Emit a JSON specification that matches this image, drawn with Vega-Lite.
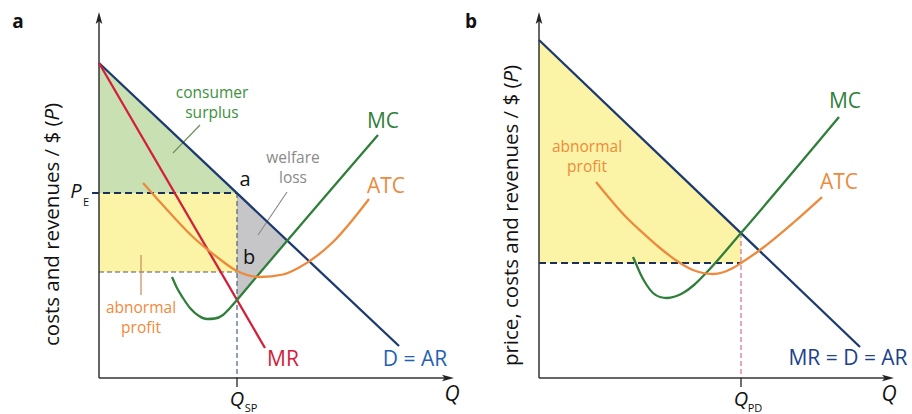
{
  "$schema": "https://vega.github.io/schema/vega-lite/v6.json",
  "background": "white",
  "padding": 0,
  "spacing": 0,
  "config": {"view": {"stroke": null}, "text": {"font": "Open Sans"}},
  "datasets": {
    "a_curves": [
      {"curve": "D", "q": 0, "p": 31.5}, {"curve": "D", "q": 30.0, "p": 3.2},
      {"curve": "MR", "q": 0, "p": 31.5}, {"curve": "MR", "q": 16.6, "p": 3.0},
      {"curve": "MC", "q": 7.3, "p": 10.1}, {"curve": "MC", "q": 7.8, "p": 9.0}, {"curve": "MC", "q": 8.4, "p": 8.0},
      {"curve": "MC", "q": 9.1, "p": 7.0}, {"curve": "MC", "q": 10.0, "p": 6.2}, {"curve": "MC", "q": 10.8, "p": 5.9},
      {"curve": "MC", "q": 11.6, "p": 5.95}, {"curve": "MC", "q": 12.4, "p": 6.3}, {"curve": "MC", "q": 13.1, "p": 7.0},
      {"curve": "MC", "q": 13.8, "p": 7.8}, {"curve": "MC", "q": 15.4, "p": 9.7}, {"curve": "MC", "q": 27.9, "p": 24.3},
      {"curve": "ATC", "q": 4.4, "p": 19.5}, {"curve": "ATC", "q": 7.1, "p": 16.5}, {"curve": "ATC", "q": 9.4, "p": 14.1},
      {"curve": "ATC", "q": 11.8, "p": 12.1}, {"curve": "ATC", "q": 13.8, "p": 10.7}, {"curve": "ATC", "q": 16.1, "p": 10.1},
      {"curve": "ATC", "q": 18.4, "p": 10.35}, {"curve": "ATC", "q": 20.1, "p": 11.1}, {"curve": "ATC", "q": 23.4, "p": 13.6},
      {"curve": "ATC", "q": 27.0, "p": 17.9}
    ],
    "a_text": [
      {"role": "big", "series": "MC", "text": "MC", "q": 28.4, "p": 25.6},
      {"role": "big", "series": "ATC", "text": "ATC", "q": 28.7, "p": 19.1},
      {"role": "big", "series": "MR", "text": "MR", "q": 18.4, "p": 1.8},
      {"role": "big", "series": "Dlab", "text": "D = AR", "q": 31.6, "p": 1.8},
      {"role": "note", "series": "CS", "text": "consumer", "q": 11.3, "p": 28.5},
      {"role": "note", "series": "CS", "text": "surplus", "q": 11.3, "p": 26.5},
      {"role": "note", "series": "WL", "text": "welfare", "q": 19.4, "p": 22.05},
      {"role": "note", "series": "WL", "text": "loss", "q": 19.4, "p": 20.05},
      {"role": "note", "series": "AP", "text": "abnormal", "q": 4.2, "p": 7.05},
      {"role": "note", "series": "AP", "text": "profit", "q": 4.2, "p": 5.05},
      {"role": "letter", "series": "ink", "text": "a", "q": 14.6, "p": 19.8},
      {"role": "letter", "series": "ink", "text": "b", "q": 15.0, "p": 12.0},
      {"role": "tag", "series": "ink", "text": "a", "q": -8.1, "p": 35.6},
      {"role": "ital", "series": "ink", "text": "P", "q": -2.3, "p": 18.6},
      {"role": "ital", "series": "ink", "text": "Q", "q": 13.8, "p": -2.2},
      {"role": "axisq", "series": "ink", "text": "Q", "q": 35.3, "p": -1.7},
      {"role": "sub", "series": "ink", "text": "E", "q": -1.3, "p": 17.5},
      {"role": "sub", "series": "ink", "text": "SP", "q": 15.2, "p": -3.05},
      {"role": "ytitle", "series": "ink", "text": "costs and revenues / $ (", "q": -4.6, "p": 25.75},
      {"role": "ytitleP", "series": "ink", "text": "P", "q": -4.6, "p": 25.75},
      {"role": "ytitleEnd", "series": "ink", "text": ")", "q": -4.6, "p": 26.9}
    ],
    "b_curves": [
      {"curve": "D", "q": 0, "p": 33.8}, {"curve": "D", "q": 32.1, "p": 3.1},
      {"curve": "MC", "q": 9.4, "p": 12.1}, {"curve": "MC", "q": 9.8, "p": 11.2}, {"curve": "MC", "q": 10.1, "p": 10.5},
      {"curve": "MC", "q": 10.7, "p": 9.4}, {"curve": "MC", "q": 11.4, "p": 8.5}, {"curve": "MC", "q": 12.1, "p": 8.1},
      {"curve": "MC", "q": 12.8, "p": 8.0}, {"curve": "MC", "q": 13.6, "p": 8.15}, {"curve": "MC", "q": 14.4, "p": 8.5},
      {"curve": "MC", "q": 15.5, "p": 9.3}, {"curve": "MC", "q": 16.8, "p": 10.6}, {"curve": "MC", "q": 20.2, "p": 14.5},
      {"curve": "MC", "q": 30.0, "p": 26.1},
      {"curve": "ATC", "q": 5.7, "p": 19.6}, {"curve": "ATC", "q": 8.8, "p": 16.0},
      {"curve": "ATC", "q": 10.4, "p": 14.5}, {"curve": "ATC", "q": 12.1, "p": 13.0}, {"curve": "ATC", "q": 13.8, "p": 11.7},
      {"curve": "ATC", "q": 15.4, "p": 10.8}, {"curve": "ATC", "q": 17.4, "p": 10.4}, {"curve": "ATC", "q": 19.4, "p": 11.0},
      {"curve": "ATC", "q": 20.2, "p": 11.5}, {"curve": "ATC", "q": 22.1, "p": 12.8}, {"curve": "ATC", "q": 25.4, "p": 15.5},
      {"curve": "ATC", "q": 28.3, "p": 18.1}
    ],
    "b_text": [
      {"role": "big", "series": "MC", "text": "MC", "q": 30.6, "p": 27.6},
      {"role": "big", "series": "ATC", "text": "ATC", "q": 30.0, "p": 19.5},
      {"role": "big", "series": "Dlab2", "text": "MR = D = AR", "q": 30.9, "p": 1.9},
      {"role": "note", "series": "AP", "text": "abnormal", "q": 4.8, "p": 23.15},
      {"role": "note", "series": "AP", "text": "profit", "q": 4.8, "p": 21.15},
      {"role": "tag", "series": "ink", "text": "b", "q": -6.8, "p": 35.6},
      {"role": "ital", "series": "ink", "text": "Q", "q": 20.2, "p": -2.2},
      {"role": "axisq", "series": "ink", "text": "Q", "q": 35.0, "p": -1.7},
      {"role": "sub", "series": "ink", "text": "PD", "q": 21.6, "p": -3.05},
      {"role": "ytitle", "series": "ink", "text": "price, costs and revenues / $ (", "q": -2.7, "p": 29.55},
      {"role": "ytitleP", "series": "ink", "text": "P", "q": -2.7, "p": 29.55},
      {"role": "ytitleEnd", "series": "ink", "text": ")", "q": -2.7, "p": 30.7}
    ]
  },
  "hconcat": [
    {
      "width": 460,
      "height": 414,
      "encoding": {
        "x": {"field": "q", "type": "quantitative", "scale": {"domain": [-9.9, 36.1], "nice": false, "zero": false}, "axis": null},
        "y": {"field": "p", "type": "quantitative", "scale": {"domain": [-3.6, 37.8], "nice": false, "zero": false}, "axis": null}
      },
      "layer": [
        {"data": {"values": [{"q": 0, "p": 31.5, "p2": 18.5}, {"q": 13.8, "p": 18.5, "p2": 18.5}]},
         "mark": {"type": "area", "color": "#c9e0b3", "opacity": 1},
         "encoding": {"y2": {"field": "p2"}}},
        {"data": {"values": [{"q": 0, "q2": 13.8, "p": 10.6, "p2": 18.5}]},
         "mark": {"type": "rect", "color": "#fbf4a6"},
         "encoding": {"x2": {"field": "q2"}, "y2": {"field": "p2"}}},
        {"data": {"values": [{"q": 13.8, "p": 18.5, "p2": 7.8}, {"q": 18.86, "p": 13.73, "p2": 13.73}]},
         "mark": {"type": "area", "color": "#c6c6c8", "opacity": 1},
         "encoding": {"y2": {"field": "p2"}}},
        {"data": {"values": [{"q": 0, "p": 10.6, "q2": 13.8}]},
         "mark": {"type": "rule", "color": "#555a66", "strokeWidth": 1.2, "strokeDash": [5, 3]},
         "encoding": {"x2": {"field": "q2"}}},
        {"data": {"values": [{"q": 13.8, "p": 18.5, "p2": 0}]},
         "mark": {"type": "rule", "color": "#4d5f80", "strokeWidth": 1.2, "strokeDash": [5, 3]},
         "encoding": {"y2": {"field": "p2"}}},
        {"data": {"values": [{"q": 13.8, "p": 0, "p2": -0.9}]},
         "mark": {"type": "rule", "color": "#222", "strokeWidth": 1.3},
         "encoding": {"y2": {"field": "p2"}}},
        {"data": {"values": [{"q": -0.7, "p": 18.5, "q2": 13.8}]},
         "mark": {"type": "rule", "color": "#1b2f5c", "strokeWidth": 2.2, "strokeDash": [7, 4]},
         "encoding": {"x2": {"field": "q2"}}},
        {"data": {"values": [{"q": 10.1, "p": 25.3, "q2": 7.4, "p2": 22.5}]},
         "mark": {"type": "rule", "color": "#6f8f5f", "strokeWidth": 1.2},
         "encoding": {"x2": {"field": "q2"}, "y2": {"field": "p2"}}},
        {"data": {"values": [{"q": 18.8, "p": 18.6, "q2": 15.9, "p2": 14.3}]},
         "mark": {"type": "rule", "color": "#8c8c8c", "strokeWidth": 1.2},
         "encoding": {"x2": {"field": "q2"}, "y2": {"field": "p2"}}},
        {"data": {"values": [{"q": 4.2, "p": 12.3, "p2": 8.3}]},
         "mark": {"type": "rule", "color": "#c98a55", "strokeWidth": 1.2},
         "encoding": {"y2": {"field": "p2"}}},
        {"data": {"values": [{"q": 0, "p": 0, "q2": 0, "p2": 36.0}, {"q": 0, "p": 0, "q2": 35.0, "p2": 0}]},
         "mark": {"type": "rule", "color": "#333", "strokeWidth": 1.5},
         "encoding": {"x2": {"field": "q2"}, "y2": {"field": "p2"}}},
        {"data": {"values": [{"q": 0, "p": 36.0}]},
         "mark": {"type": "point", "shape": "M0,-1L0.55,1L0,0.55L-0.55,1Z", "filled": true, "size": 144, "color": "#222", "opacity": 1}},
        {"data": {"values": [{"q": 34.9, "p": 0}]},
         "mark": {"type": "point", "shape": "M1,0L-1,0.55L-0.55,0L-1,-0.55Z", "filled": true, "size": 144, "color": "#222", "opacity": 1}},
        {"data": {"name": "a_curves"},
         "mark": {"type": "line", "strokeWidth": 2.3, "interpolate": "monotone"},
         "encoding": {
           "detail": {"field": "curve"},
           "color": {"field": "curve", "type": "nominal", "legend": null,
             "scale": {"domain": ["D", "MR", "MC", "ATC", "CS", "WL", "AP", "Dlab", "Dlab2", "ink"],
                       "range": ["#1c3a70", "#d2203c", "#2f7f3b", "#ec8a3e", "#3d9140", "#8a8a8a", "#ef8a3c", "#1f62b3", "#203f8c", "#111111"]}}
         }},
        {"data": {"name": "a_text"}, "transform": [{"filter": "datum.role === 'big'"}],
         "mark": {"type": "text", "fontSize": 21},
         "encoding": {"text": {"field": "text"},
           "color": {"field": "series", "type": "nominal", "legend": null,
             "scale": {"domain": ["D", "MR", "MC", "ATC", "CS", "WL", "AP", "Dlab", "Dlab2", "ink"],
                       "range": ["#1c3a70", "#d2203c", "#2f7f3b", "#ec8a3e", "#3d9140", "#8a8a8a", "#ef8a3c", "#1f62b3", "#203f8c", "#111111"]}}}},
        {"data": {"name": "a_text"}, "transform": [{"filter": "datum.role === 'note'"}],
         "mark": {"type": "text", "fontSize": 15.5},
         "encoding": {"text": {"field": "text"},
           "color": {"field": "series", "type": "nominal", "legend": null,
             "scale": {"domain": ["D", "MR", "MC", "ATC", "CS", "WL", "AP", "Dlab", "Dlab2", "ink"],
                       "range": ["#1c3a70", "#d2203c", "#2f7f3b", "#ec8a3e", "#3d9140", "#8a8a8a", "#ef8a3c", "#1f62b3", "#203f8c", "#111111"]}}}},
        {"data": {"name": "a_text"}, "transform": [{"filter": "datum.role === 'letter'"}],
         "mark": {"type": "text", "fontSize": 20, "color": "#111"},
         "encoding": {"text": {"field": "text"}}},
        {"data": {"name": "a_text"}, "transform": [{"filter": "datum.role === 'tag'"}],
         "mark": {"type": "text", "fontSize": 19, "fontWeight": "bold", "color": "#111"},
         "encoding": {"text": {"field": "text"}}},
        {"data": {"name": "a_text"}, "transform": [{"filter": "datum.role === 'ital'"}],
         "mark": {"type": "text", "fontSize": 20, "fontStyle": "italic", "color": "#111"},
         "encoding": {"text": {"field": "text"}}},
        {"data": {"name": "a_text"}, "transform": [{"filter": "datum.role === 'axisq'"}],
         "mark": {"type": "text", "fontSize": 21, "fontStyle": "italic", "color": "#111"},
         "encoding": {"text": {"field": "text"}}},
        {"data": {"name": "a_text"}, "transform": [{"filter": "datum.role === 'sub'"}],
         "mark": {"type": "text", "fontSize": 11, "color": "#111"},
         "encoding": {"text": {"field": "text"}}},
        {"data": {"name": "a_text"}, "transform": [{"filter": "datum.role === 'ytitle'"}],
         "mark": {"type": "text", "fontSize": 20.5, "angle": 270, "align": "right", "color": "#111"},
         "encoding": {"text": {"field": "text"}}},
        {"data": {"name": "a_text"}, "transform": [{"filter": "datum.role === 'ytitleP'"}],
         "mark": {"type": "text", "fontSize": 20.5, "angle": 270, "align": "left", "fontStyle": "italic", "color": "#111"},
         "encoding": {"text": {"field": "text"}}},
        {"data": {"name": "a_text"}, "transform": [{"filter": "datum.role === 'ytitleEnd'"}],
         "mark": {"type": "text", "fontSize": 20.5, "angle": 270, "align": "left", "color": "#111"},
         "encoding": {"text": {"field": "text"}}}
      ]
    },
    {
      "width": 452,
      "height": 414,
      "encoding": {
        "x": {"field": "q", "type": "quantitative", "scale": {"domain": [-7.9, 37.3], "nice": false, "zero": false}, "axis": null},
        "y": {"field": "p", "type": "quantitative", "scale": {"domain": [-3.6, 37.8], "nice": false, "zero": false}, "axis": null}
      },
      "layer": [
        {"data": {"values": [{"q": 0, "p": 33.8, "p2": 11.5}, {"q": 20.2, "p": 14.5, "p2": 11.5}]},
         "mark": {"type": "area", "color": "#fbf4a6", "opacity": 1},
         "encoding": {"y2": {"field": "p2"}}},
        {"data": {"values": [{"q": 20.2, "p": 14.5, "p2": 0}]},
         "mark": {"type": "rule", "color": "#d0709c", "strokeWidth": 1.2, "strokeDash": [5, 3]},
         "encoding": {"y2": {"field": "p2"}}},
        {"data": {"values": [{"q": 20.2, "p": 0, "p2": -0.9}]},
         "mark": {"type": "rule", "color": "#222", "strokeWidth": 1.3},
         "encoding": {"y2": {"field": "p2"}}},
        {"data": {"values": [{"q": 0, "p": 11.5, "q2": 20.2}]},
         "mark": {"type": "rule", "color": "#1b2f5c", "strokeWidth": 2.2, "strokeDash": [7, 4]},
         "encoding": {"x2": {"field": "q2"}}},
        {"data": {"values": [{"q": 0, "p": 0, "q2": 0, "p2": 36.0}, {"q": 0, "p": 0, "q2": 35.0, "p2": 0}]},
         "mark": {"type": "rule", "color": "#333", "strokeWidth": 1.5},
         "encoding": {"x2": {"field": "q2"}, "y2": {"field": "p2"}}},
        {"data": {"values": [{"q": 0, "p": 36.0}]},
         "mark": {"type": "point", "shape": "M0,-1L0.55,1L0,0.55L-0.55,1Z", "filled": true, "size": 144, "color": "#222", "opacity": 1}},
        {"data": {"values": [{"q": 34.9, "p": 0}]},
         "mark": {"type": "point", "shape": "M1,0L-1,0.55L-0.55,0L-1,-0.55Z", "filled": true, "size": 144, "color": "#222", "opacity": 1}},
        {"data": {"name": "b_curves"},
         "mark": {"type": "line", "strokeWidth": 2.3, "interpolate": "monotone"},
         "encoding": {
           "detail": {"field": "curve"},
           "color": {"field": "curve", "type": "nominal", "legend": null,
             "scale": {"domain": ["D", "MR", "MC", "ATC", "CS", "WL", "AP", "Dlab", "Dlab2", "ink"],
                       "range": ["#1c3a70", "#d2203c", "#2f7f3b", "#ec8a3e", "#3d9140", "#8a8a8a", "#ef8a3c", "#1f62b3", "#203f8c", "#111111"]}}
         }},
        {"data": {"name": "b_text"}, "transform": [{"filter": "datum.role === 'big'"}],
         "mark": {"type": "text", "fontSize": 21},
         "encoding": {"text": {"field": "text"},
           "color": {"field": "series", "type": "nominal", "legend": null,
             "scale": {"domain": ["D", "MR", "MC", "ATC", "CS", "WL", "AP", "Dlab", "Dlab2", "ink"],
                       "range": ["#1c3a70", "#d2203c", "#2f7f3b", "#ec8a3e", "#3d9140", "#8a8a8a", "#ef8a3c", "#1f62b3", "#203f8c", "#111111"]}}}},
        {"data": {"name": "b_text"}, "transform": [{"filter": "datum.role === 'note'"}],
         "mark": {"type": "text", "fontSize": 15.5},
         "encoding": {"text": {"field": "text"},
           "color": {"field": "series", "type": "nominal", "legend": null,
             "scale": {"domain": ["D", "MR", "MC", "ATC", "CS", "WL", "AP", "Dlab", "Dlab2", "ink"],
                       "range": ["#1c3a70", "#d2203c", "#2f7f3b", "#ec8a3e", "#3d9140", "#8a8a8a", "#ef8a3c", "#1f62b3", "#203f8c", "#111111"]}}}},
        {"data": {"name": "b_text"}, "transform": [{"filter": "datum.role === 'tag'"}],
         "mark": {"type": "text", "fontSize": 19, "fontWeight": "bold", "color": "#111"},
         "encoding": {"text": {"field": "text"}}},
        {"data": {"name": "b_text"}, "transform": [{"filter": "datum.role === 'ital'"}],
         "mark": {"type": "text", "fontSize": 20, "fontStyle": "italic", "color": "#111"},
         "encoding": {"text": {"field": "text"}}},
        {"data": {"name": "b_text"}, "transform": [{"filter": "datum.role === 'axisq'"}],
         "mark": {"type": "text", "fontSize": 21, "fontStyle": "italic", "color": "#111"},
         "encoding": {"text": {"field": "text"}}},
        {"data": {"name": "b_text"}, "transform": [{"filter": "datum.role === 'sub'"}],
         "mark": {"type": "text", "fontSize": 11, "color": "#111"},
         "encoding": {"text": {"field": "text"}}},
        {"data": {"name": "b_text"}, "transform": [{"filter": "datum.role === 'ytitle'"}],
         "mark": {"type": "text", "fontSize": 20.5, "angle": 270, "align": "right", "color": "#111"},
         "encoding": {"text": {"field": "text"}}},
        {"data": {"name": "b_text"}, "transform": [{"filter": "datum.role === 'ytitleP'"}],
         "mark": {"type": "text", "fontSize": 20.5, "angle": 270, "align": "left", "fontStyle": "italic", "color": "#111"},
         "encoding": {"text": {"field": "text"}}},
        {"data": {"name": "b_text"}, "transform": [{"filter": "datum.role === 'ytitleEnd'"}],
         "mark": {"type": "text", "fontSize": 20.5, "angle": 270, "align": "left", "color": "#111"},
         "encoding": {"text": {"field": "text"}}}
      ]
    }
  ]
}
